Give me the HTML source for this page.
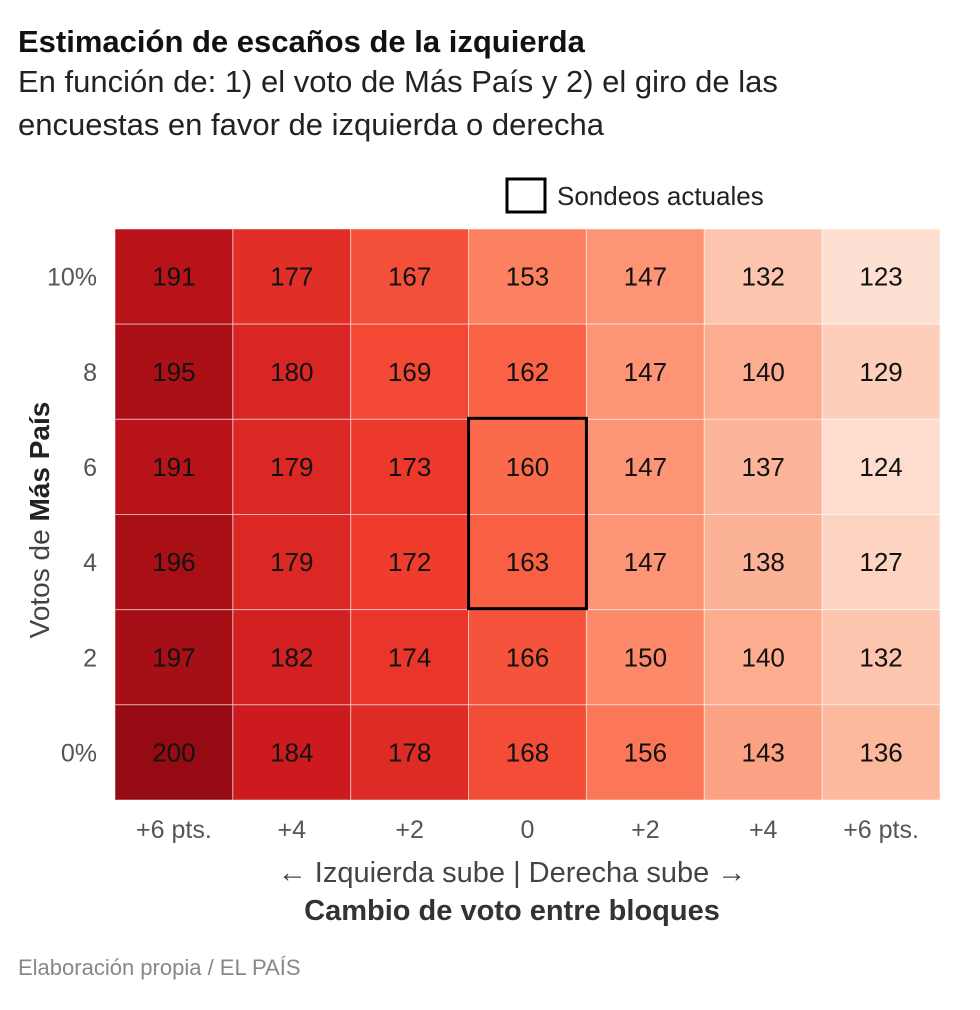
<!DOCTYPE html>
<html><head><meta charset="utf-8"><style>
body{margin:0;background:#fff;width:980px;height:1005px;overflow:hidden;font-family:"Liberation Sans",sans-serif;}
</style></head><body>
<svg width="980" height="1005" xmlns="http://www.w3.org/2000/svg" font-family="Liberation Sans, sans-serif">
<text x="18" y="52" font-size="31" font-weight="bold" fill="#111">Estimación de escaños de la izquierda</text>
<text x="18" y="92" font-size="31" fill="#222">En función de: 1) el voto de Más País y 2) el giro de las</text>
<text x="18" y="135" font-size="31" fill="#222">encuestas en favor de izquierda o derecha</text>
<rect x="507" y="179" width="38" height="33" fill="none" stroke="#000" stroke-width="3"/>
<text x="557" y="205" font-size="26" fill="#222">Sondeos actuales</text>
<g id="cells"></g>
<g id="labels"></g>
<text transform="translate(49,520) rotate(-90)" text-anchor="middle" font-size="28" fill="#444">Votos de <tspan font-weight="bold" fill="#222">Más País</tspan></text>
<text x="512" y="882" text-anchor="middle" font-size="29" fill="#444">← Izquierda sube   |  Derecha sube →</text>
<text x="512" y="920" text-anchor="middle" font-size="29" font-weight="bold" fill="#333">Cambio de voto entre bloques</text>
<text x="18" y="975" font-size="22" fill="#888">Elaboración propia / EL PAÍS</text>
</svg>
<script>
const xLabels=["+6 pts.","+4","+2","0","+2","+4","+6 pts."];
const yLabels=["10%","8","6","4","2","0%"];
const row10=[191,177,167,153,147,132,123];
const row8=[195,180,169,162,147,140,129];
const row6=[191,179,173,160,147,137,124];
const row4=[196,179,172,163,147,138,127];
const row2=[197,182,174,166,150,140,132];
const row0=[200,184,178,168,156,143,136];
const rows=[row10,row8,row6,row4,row2,row0];
const highlight={col:3,rowStart:2,rowEnd:3};
const NS="http://www.w3.org/2000/svg";
const x0=115,x1=940,y0=229,y1=800;
const cw=(x1-x0)/xLabels.length, ch=(y1-y0)/yLabels.length;
const xs=i=>x0+i*cw, ys=j=>y0+j*ch;
const stops=["#fff5f0","#fee0d2","#fcbba1","#fc9272","#fb6a4a","#ef3b2c","#cb181d","#a50f15","#67000d"];
function hex(c){return [1,3,5].map(k=>parseInt(c.substr(k,2),16));}
function color(v){let t=0.125+(v-123)/77*0.78;t=Math.max(0,Math.min(1,t));const p=t*(stops.length-1),i=Math.min(stops.length-2,Math.floor(p)),f=p-i;const a=hex(stops[i]),b=hex(stops[i+1]);return "rgb("+a.map((x,k)=>Math.round(x+(b[k]-x)*f)).join(",")+")";}
const cells=document.getElementById("cells"),labels=document.getElementById("labels");
rows.forEach((r,j)=>r.forEach((v,i)=>{
 const rc=document.createElementNS(NS,"rect");
 rc.setAttribute("x",xs(i));rc.setAttribute("y",ys(j));rc.setAttribute("width",cw);rc.setAttribute("height",ch);
 rc.setAttribute("fill",color(v));rc.setAttribute("stroke","rgba(255,255,255,0.5)");rc.setAttribute("stroke-width","1");
 
 
 cells.appendChild(rc);
 const t=document.createElementNS(NS,"text");
 t.setAttribute("x",xs(i)+cw/2);t.setAttribute("y",ys(j)+ch/2+9);t.setAttribute("text-anchor","middle");t.setAttribute("font-size","26");t.setAttribute("fill","#111");
 t.textContent=v;
 
 
 labels.appendChild(t);
}));
yLabels.forEach((l,j)=>{const t=document.createElementNS(NS,"text");t.setAttribute("x",97);t.setAttribute("y",ys(j)+ch/2+9);t.setAttribute("text-anchor","end");t.setAttribute("font-size","25");t.setAttribute("fill","#555");t.textContent=l;
 
 
 labels.appendChild(t);});
xLabels.forEach((l,i)=>{const t=document.createElementNS(NS,"text");t.setAttribute("x",xs(i)+cw/2);t.setAttribute("y",838);t.setAttribute("text-anchor","middle");t.setAttribute("font-size","25");t.setAttribute("fill","#555");t.textContent=l;
 
 
 labels.appendChild(t);});
const hb=document.createElementNS(NS,"rect");
hb.setAttribute("x",xs(highlight.col));hb.setAttribute("y",ys(highlight.rowStart)-1);hb.setAttribute("width",cw);hb.setAttribute("height",ch*(highlight.rowEnd-highlight.rowStart+1));
hb.setAttribute("fill","none");hb.setAttribute("stroke","#000");hb.setAttribute("stroke-width","3");


labels.appendChild(hb);
</script>
</body></html>
